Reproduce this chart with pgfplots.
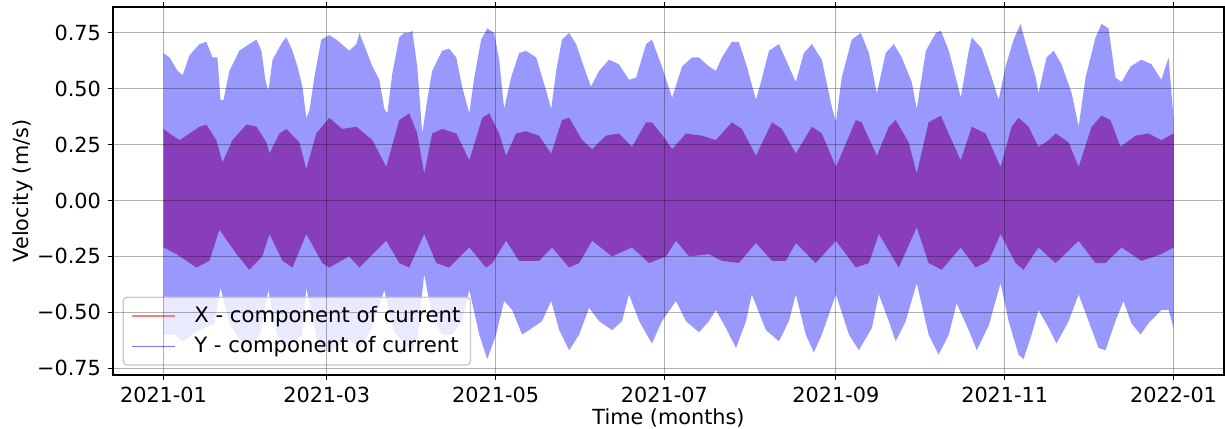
\documentclass[border=0pt]{standalone}
\usepackage{fontspec}
\setmainfont{DejaVu Sans}
\usepackage{pgfplots}
\usepackage{pgfplotstable}
\pgfplotsset{compat=1.18}
\usepgfplotslibrary{fillbetween}
\definecolor{ycol}{RGB}{152,152,253}
\definecolor{xcol}{RGB}{136,62,186}
\definecolor{xleg}{RGB}{240,130,130}
\definecolor{yleg}{RGB}{120,120,255}
\definecolor{legframe}{RGB}{200,200,200}

\pgfplotstableread{
d v
0 0.66
2.2 0.64
5.1 0.58
6.9 0.56
9.4 0.65
13.0 0.70
15.5 0.71
17.7 0.64
19.5 0.64
20.6 0.45
21.7 0.45
23.8 0.58
27.4 0.67
31.0 0.70
33.6 0.72
35.4 0.67
36.8 0.54
37.9 0.49
39.4 0.63
43.0 0.71
44.4 0.73
46.6 0.67
48.4 0.60
50.2 0.51
51.6 0.37
52.7 0.40
54.5 0.55
57.0 0.72
59.9 0.74
62.5 0.72
65.3 0.69
67.1 0.67
69.7 0.70
70.8 0.75
73.3 0.67
75.5 0.60
78.0 0.54
79.8 0.41
80.9 0.39
82.7 0.57
85.2 0.73
87.0 0.75
88.8 0.75
89.9 0.76
91.7 0.60
93.5 0.30
95.3 0.45
97.1 0.58
100.7 0.67
103.2 0.68
105.8 0.64
107.9 0.51
110.5 0.39
112.3 0.55
114.8 0.72
117.0 0.77
119.5 0.75
121.3 0.63
123.1 0.41
125.6 0.55
128.5 0.66
131.0 0.67
134.7 0.64
138.3 0.49
140.1 0.41
141.9 0.58
144.0 0.72
146.6 0.75
149.1 0.70
152.7 0.57
154.5 0.51
157.4 0.58
161.0 0.63
164.6 0.61
168.2 0.54
170.8 0.55
174.4 0.70
176.5 0.72
180.1 0.60
183.8 0.46
187.4 0.60
191.0 0.64
193.5 0.64
197.1 0.60
199.6 0.58
201.8 0.64
205.4 0.71
207.9 0.71
210.8 0.60
214.1 0.45
215.9 0.53
218.8 0.67
222.4 0.70
226.0 0.60
228.5 0.53
231.4 0.66
234.3 0.70
237.9 0.63
241.5 0.42
243.0 0.35
245.1 0.55
248.7 0.72
252.0 0.75
254.9 0.66
257.8 0.48
261.0 0.66
263.9 0.70
266.8 0.64
270.4 0.53
272.2 0.41
275.5 0.67
279.1 0.75
280.9 0.76
283.8 0.67
286.3 0.55
288.1 0.46
291.0 0.67
292.1 0.73
295.7 0.68
299.3 0.55
301.8 0.45
304.3 0.60
307.2 0.72
309.7 0.79
312.6 0.66
315.2 0.55
316.2 0.48
319.1 0.64
321.7 0.67
324.5 0.61
328.2 0.48
330.7 0.33
333.2 0.55
336.8 0.73
339.0 0.79
341.5 0.77
344.0 0.55
346.2 0.53
349.5 0.60
353.4 0.63
357.0 0.61
360.6 0.54
363.2 0.64
365.0 0.37
}\yup

\pgfplotstableread{
d v
0 -0.60
4.0 -0.60
6.9 -0.63
13.0 -0.58
18.4 -0.55
20.6 -0.39
23.8 -0.55
27.4 -0.62
31.0 -0.65
35.0 -0.60
37.9 -0.40
41.0 -0.60
45.0 -0.66
50.0 -0.60
51.6 -0.39
56.0 -0.66
60.0 -0.68
67.0 -0.62
70.8 -0.66
75.0 -0.58
79.8 -0.40
83.0 -0.58
87.0 -0.64
89.9 -0.68
91.7 -0.62
94.2 -0.33
97.1 -0.52
100.7 -0.60
104.3 -0.60
107.9 -0.54
110.5 -0.40
114.1 -0.60
117.0 -0.71
120.2 -0.60
123.1 -0.45
126.0 -0.49
129.6 -0.60
132.1 -0.58
136.8 -0.54
140.1 -0.45
143.0 -0.58
146.6 -0.67
150.2 -0.60
153.8 -0.48
157.4 -0.54
162.1 -0.58
165.7 -0.54
168.2 -0.42
171.9 -0.54
176.5 -0.64
180.1 -0.54
185.2 -0.45
188.8 -0.54
193.5 -0.59
197.1 -0.54
199.6 -0.49
203.2 -0.57
206.9 -0.66
210.5 -0.54
212.6 -0.42
217.7 -0.58
222.4 -0.63
226.0 -0.54
228.5 -0.42
232.1 -0.60
235.0 -0.68
237.9 -0.60
243.0 -0.42
247.7 -0.60
251.3 -0.67
256.0 -0.57
258.5 -0.42
262.1 -0.54
264.6 -0.63
268.2 -0.54
272.2 -0.37
276.5 -0.60
280.1 -0.69
283.8 -0.60
286.6 -0.46
291.0 -0.58
293.9 -0.67
298.2 -0.56
302.5 -0.37
305.4 -0.54
309.0 -0.69
310.8 -0.71
313.7 -0.60
316.2 -0.49
319.9 -0.57
322.7 -0.64
327.1 -0.54
330.7 -0.42
334.3 -0.54
337.9 -0.66
340.4 -0.67
344.0 -0.54
346.9 -0.45
349.8 -0.55
353.1 -0.60
355.9 -0.55
360.6 -0.49
363.2 -0.49
365.0 -0.57
}\ylow

\pgfplotstableread{
d v
0 0.32
2.2 0.30
5.8 0.27
9.4 0.30
13.0 0.33
15.5 0.34
19.1 0.27
21.3 0.17
24.9 0.27
30.0 0.34
33.6 0.33
37.2 0.26
38.3 0.21
41.9 0.30
44.4 0.32
49.1 0.26
51.6 0.14
55.2 0.30
59.9 0.37
64.6 0.32
69.7 0.33
75.5 0.27
80.5 0.15
85.2 0.36
88.8 0.39
91.7 0.30
94.2 0.12
97.1 0.30
100.7 0.32
105.8 0.30
110.5 0.18
115.2 0.37
117.7 0.39
121.3 0.30
123.8 0.20
127.4 0.30
131.0 0.31
135.7 0.29
140.1 0.21
144.0 0.36
146.6 0.37
151.3 0.27
154.9 0.23
159.9 0.29
164.6 0.30
169.3 0.24
174.4 0.35
176.5 0.35
181.6 0.27
183.8 0.23
188.8 0.30
194.6 0.29
199.6 0.27
205.4 0.35
209.0 0.32
214.1 0.20
219.9 0.35
223.5 0.32
228.5 0.21
234.3 0.33
237.9 0.30
243.0 0.15
250.2 0.36
252.3 0.35
257.8 0.20
262.1 0.33
264.6 0.36
269.3 0.26
272.2 0.12
276.5 0.35
280.9 0.38
284.8 0.27
288.1 0.18
292.1 0.33
297.1 0.30
302.5 0.15
306.5 0.33
309.0 0.37
312.6 0.33
316.2 0.24
319.9 0.27
322.4 0.30
327.1 0.26
330.7 0.15
335.4 0.33
339.0 0.38
342.2 0.36
345.8 0.24
351.3 0.29
355.9 0.30
360.6 0.27
365.0 0.30
}\xup

\pgfplotstableread{
d v
0 -0.21
4.7 -0.24
11.9 -0.30
16.6 -0.27
20.2 -0.13
26.4 -0.24
31.0 -0.31
35.7 -0.25
38.3 -0.15
43.0 -0.27
46.6 -0.30
51.6 -0.15
57.4 -0.28
59.9 -0.30
67.1 -0.25
70.8 -0.30
80.5 -0.18
85.2 -0.28
88.8 -0.30
94.2 -0.15
98.6 -0.28
103.2 -0.30
110.5 -0.21
116.6 -0.30
118.8 -0.28
123.8 -0.18
128.5 -0.27
135.7 -0.27
140.4 -0.21
146.6 -0.30
150.2 -0.28
154.9 -0.18
162.1 -0.25
169.3 -0.21
175.5 -0.28
181.6 -0.25
185.2 -0.18
189.9 -0.25
197.1 -0.24
201.8 -0.27
207.9 -0.28
214.1 -0.19
219.9 -0.27
224.9 -0.27
228.5 -0.19
235.7 -0.28
243.0 -0.18
250.2 -0.30
254.9 -0.28
258.5 -0.15
265.7 -0.30
272.2 -0.12
276.5 -0.28
281.2 -0.31
288.1 -0.21
293.5 -0.30
298.2 -0.27
302.5 -0.15
307.9 -0.28
310.8 -0.31
316.2 -0.21
322.4 -0.28
330.7 -0.18
336.8 -0.28
340.4 -0.28
346.2 -0.21
353.4 -0.27
360.6 -0.24
365.0 -0.21
}\xlow

\begin{document}
\fontsize{20.8bp}{25bp}\selectfont
\begin{tikzpicture}
\begin{axis}[
  scale only axis, width=1111bp, height=368bp,
  xmin=-18.25, xmax=383.25, ymin=-0.781, ymax=0.866,
  xtick={0,59,120,181,243,304,365},
  xticklabels={2021-01,2021-03,2021-05,2021-07,2021-09,2021-11,2022-01},
  ytick={-0.75,-0.5,-0.25,0,0.25,0.5,0.75},
  yticklabels={−0.75,−0.50,−0.25,0.00,0.25,0.50,0.75},
  tick align=outside, major tick length=5bp,
  tick style={black, line width=1.1bp},
  axis line style={black, line width=1.1bp},
  grid=major, grid style={black, opacity=0.3, line width=1.1bp},
  axis on top,
  ticklabel style={font=\fontsize{20.8bp}{25bp}\selectfont},
  label style={font=\fontsize{21.2bp}{25bp}\selectfont},
  xlabel={Time (months)}, ylabel={Velocity (m/s)},
  every axis x label/.style={at={(axis description cs:0.5,-0.118)}, anchor=center},
  every axis y label/.style={at={(axis description cs:-0.081,0.5)}, rotate=90, anchor=center},
  legend image code/.code={\draw[#1] (0bp,0bp) -- (43bp,0bp);},
  legend cell align=left,
  legend style={name=leg, at={(0.0093,0.027)}, anchor=south west,
    draw=none, fill=white, fill opacity=0.8, text opacity=1,
    inner xsep=8bp, inner ysep=7bp, row sep=7bp,
    column sep=16.5bp,
    font=\fontsize{21.2bp}{25bp}\selectfont},
]
\addplot[name path=yu, draw=none, forget plot] table[x=d, y=v] {\yup};
\addplot[name path=yl, draw=none, forget plot] table[x=d, y=v] {\ylow};
\addplot[ycol, forget plot] fill between[of=yu and yl];
\addplot[name path=xu, draw=none, forget plot] table[x=d, y=v] {\xup};
\addplot[name path=xl, draw=none, forget plot] table[x=d, y=v] {\xlow};
\addplot[xcol, forget plot] fill between[of=xu and xl];
\addlegendimage{xleg, line width=1.3bp}
\addlegendentry{X - component of current}
\addlegendimage{yleg, line width=1.3bp}
\addlegendentry{Y - component of current}
\end{axis}
\draw[legframe, line width=1.3bp, rounded corners=4bp] (leg.south west) rectangle (leg.north east);
\pgfresetboundingbox
\path (-113bp,-54bp) rectangle (1112bp,375bp);
\end{tikzpicture}
\end{document}
